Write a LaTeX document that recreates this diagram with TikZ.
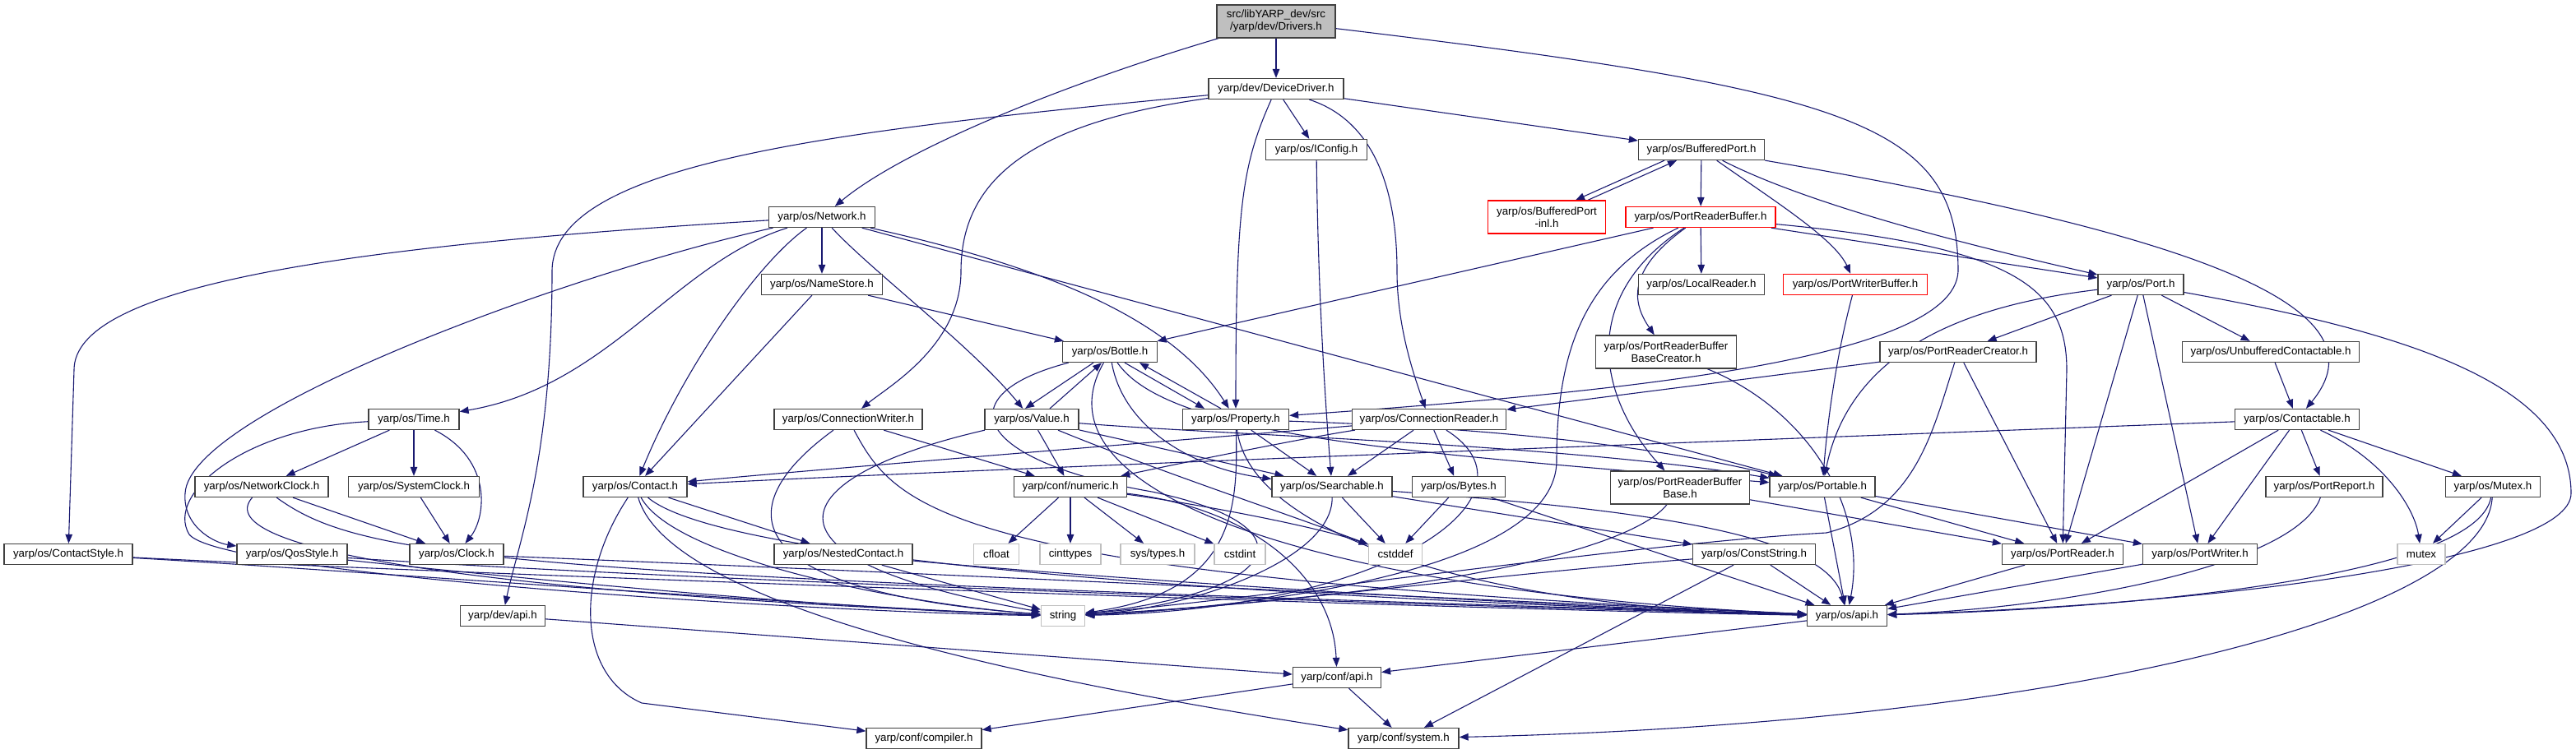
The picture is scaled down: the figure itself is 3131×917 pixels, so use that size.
\documentclass[tikz,border=0pt]{standalone}
\usepackage{fontspec}
\setmainfont{Liberation Sans}
\usetikzlibrary{arrows.meta}
\definecolor{edgec}{HTML}{191970}
\definecolor{boxc}{HTML}{404040}
\definecolor{sysc}{HTML}{BFBFBF}
\definecolor{rootc}{HTML}{BFBFBF}
\pgfdeclarelayer{bg}
\pgfsetlayers{bg,main}
\begin{document}
\begin{tikzpicture}[x=1pt,y=-1pt,
  hdr/.style={draw=boxc, line width=1.3pt, fill=white, inner sep=1pt, minimum height=25pt, align=center, font=\fontsize{13.3pt}{15pt}\selectfont},
  sysh/.style={hdr, draw=sysc},
  redh/.style={hdr, draw=red},
  two/.style={minimum height=40pt},
  edge/.style={draw=edgec, line width=1.1pt, -{Triangle[length=11pt,width=8.5pt]}}]
\useasboundingbox (0,0) rectangle (3131,917);
% ---------- nodes
\node[hdr, two, fill=rootc, minimum width=144pt] (root) at (1551,26) {src/libYARP\_dev/src\\/yarp/dev/Drivers.h};
\node[hdr, minimum width=164pt] (DD) at (1551,108) {yarp/dev/DeviceDriver.h};
\node[hdr, minimum width=123pt] (IConfig) at (1600,182) {yarp/os/IConfig.h};
\node[hdr, minimum width=153pt] (BP) at (2068,182) {yarp/os/BufferedPort.h};
\node[hdr, minimum width=129pt] (Network) at (999,264) {yarp/os/Network.h};
\node[redh, two, minimum width=143pt] (BPinl) at (1880,264) {yarp/os/BufferedPort\\-inl.h};
\node[redh, minimum width=182pt] (PRB) at (2067,264) {yarp/os/PortReaderBuffer.h};
\node[hdr, minimum width=147pt] (NameStore) at (999,346) {yarp/os/NameStore.h};
\node[hdr, minimum width=153pt] (LocalReader) at (2068,346) {yarp/os/LocalReader.h};
\node[redh, minimum width=175pt] (PWB) at (2255,346) {yarp/os/PortWriterBuffer.h};
\node[hdr, minimum width=104pt] (Port) at (2602,346) {yarp/os/Port.h};
\node[hdr, minimum width=115pt] (Bottle) at (1349,428) {yarp/os/Bottle.h};
\node[hdr, two, minimum width=171pt] (PRBBC) at (2025,428) {yarp/os/PortReaderBuffer\\BaseCreator.h};
\node[hdr, minimum width=190pt] (PRC) at (2380,428) {yarp/os/PortReaderCreator.h};
\node[hdr, minimum width=215pt] (UC) at (2760,428) {yarp/os/UnbufferedContactable.h};
\node[hdr, minimum width=110pt] (Time) at (503,510) {yarp/os/Time.h};
\node[hdr, minimum width=180pt] (CW) at (1031,510) {yarp/os/ConnectionWriter.h};
\node[hdr, minimum width=114pt] (Value) at (1254,510) {yarp/os/Value.h};
\node[hdr, minimum width=129pt] (Property) at (1502,510) {yarp/os/Property.h};
\node[hdr, minimum width=187pt] (CR) at (1737,510) {yarp/os/ConnectionReader.h};
\node[hdr, minimum width=151pt] (Contactable) at (2792,510) {yarp/os/Contactable.h};
\node[hdr, minimum width=162pt] (NetClock) at (318,592) {yarp/os/NetworkClock.h};
\node[hdr, minimum width=159pt] (SysClock) at (503,592) {yarp/os/SystemClock.h};
\node[hdr, minimum width=126pt] (Contact) at (772,592) {yarp/os/Contact.h};
\node[hdr, minimum width=137pt] (numeric) at (1301,592) {yarp/conf/numeric.h};
\node[hdr, minimum width=146pt] (Searchable) at (1619,592) {yarp/os/Searchable.h};
\node[hdr, minimum width=113pt] (Bytes) at (1773,592) {yarp/os/Bytes.h};
\node[hdr, two, minimum width=169pt] (PRBB) at (2042,593) {yarp/os/PortReaderBuffer\\Base.h};
\node[hdr, minimum width=128pt] (Portable) at (2215,592) {yarp/os/Portable.h};
\node[hdr, minimum width=142pt] (PortReport) at (2825,592) {yarp/os/PortReport.h};
\node[hdr, minimum width=115pt] (Mutex) at (3030,592) {yarp/os/Mutex.h};
\node[hdr, minimum width=156pt] (ContactStyle) at (83,674) {yarp/os/ContactStyle.h};
\node[hdr, minimum width=134pt] (QosStyle) at (355,674) {yarp/os/QosStyle.h};
\node[hdr, minimum width=114pt] (Clock) at (555,674) {yarp/os/Clock.h};
\node[hdr, minimum width=168pt] (Nested) at (1025,674) {yarp/os/NestedContact.h};
\node[sysh, minimum width=55pt] (cfloat) at (1211,674) {cfloat};
\node[sysh, minimum width=74pt] (cinttypes) at (1301,674) {cinttypes};
\node[sysh, minimum width=90pt] (systypes) at (1407,674) {sys/types.h};
\node[sysh, minimum width=62pt] (cstdint) at (1507,674) {cstdint};
\node[sysh, minimum width=65pt] (cstddef) at (1696,674) {cstddef};
\node[hdr, minimum width=149pt] (ConstString) at (2132,674) {yarp/os/ConstString.h};
\node[hdr, minimum width=147pt] (PortReader) at (2507,674) {yarp/os/PortReader.h};
\node[hdr, minimum width=139pt] (PortWriter) at (2674,674) {yarp/os/PortWriter.h};
\node[sysh, minimum width=58pt] (mutex) at (2943,674) {mutex};
\node[hdr, minimum width=103pt] (devapi) at (611,749) {yarp/dev/api.h};
\node[sysh, minimum width=53pt] (string) at (1292,749) {string};
\node[hdr, minimum width=97pt] (osapi) at (2245,749) {yarp/os/api.h};
\node[hdr, minimum width=107pt] (confapi) at (1625,824) {yarp/conf/api.h};
\node[hdr, minimum width=140pt] (compiler) at (1123,898) {yarp/conf/compiler.h};
\node[hdr, minimum width=134pt] (system) at (1706,898) {yarp/conf/system.h};
% ---------- waypoints
\coordinate (rp1) at (2380,330);
\coordinate (dd1) at (671,330);
\coordinate (dc1) at (1168,330);
\coordinate (dcr) at (1698,330);
\coordinate (prr) at (2512,450);
\coordinate (ps1) at (1892,560);
\coordinate (nc1) at (90,450);
\coordinate (nq1) at (225,600);
\coordinate (ts1) at (230,650);
\coordinate (cc1) at (780,855);
\coordinate (bs1) at (1400,598);
\coordinate (prs) at (2220,648);
\coordinate (pa1) at (3125,600);
% ---------- edges
\begin{pgfonlayer}{bg}
\draw[edge] (root) -- (DD);
\draw[edge] (root) .. controls (1300,100) and (1100,180) .. (Network);
\draw[edge] (root) .. controls (2250,110) and (2380,150) .. (rp1) .. controls (2375,440) and (1950,478) .. (Property);
\draw[edge] (DD) -- (IConfig);
\draw[edge] (DD) -- (BP);
\draw[edge] (DD) .. controls (1000,160) and (671,200) .. (dd1) .. controls (671,560) and (630,660) .. (devapi);
\draw[edge] (DD) .. controls (1250,150) and (1168,220) .. (dc1) .. controls (1168,420) and (1080,470) .. (CW);
\draw[edge] (DD) .. controls (1510,200) and (1502,250) .. (Property);
\draw[edge] (DD) .. controls (1680,150) and (1698,250) .. (dcr) .. controls (1698,400) and (1720,460) .. (CR);
\draw[edge] (IConfig) .. controls (1602,350) and (1610,480) .. (Searchable);
\draw[edge] ([xshift=-45pt]BP.south) -- ([xshift=35pt]BPinl.north);
\draw[edge] ([xshift=50pt]BPinl.north) -- ([xshift=-30pt]BP.south);
\draw[edge] (BP) -- (PRB);
\draw[edge] (BP) .. controls (2150,240) and (2230,290) .. (PWB);
\draw[edge] (BP) .. controls (2200,250) and (2400,300) .. (Port);
\draw[edge] (BP) .. controls (2700,290) and (2900,380) .. (Contactable);
\draw[edge] (PRB) -- (LocalReader);
\draw[edge] (PRB) -- (Port);
\draw[edge] (PRB) .. controls (2450,300) and (2512,350) .. (prr) -- (PortReader);
\draw[edge] (PRB) -- (Bottle);
\draw[edge] (PRB) .. controls (1930,330) and (1892,420) .. (ps1) .. controls (1892,700) and (1500,740) .. (string);
\draw[edge] (PRB) .. controls (1920,360) and (1940,480) .. (PRBB);
\draw[edge] (PRB) .. controls (1975,330) and (1985,370) .. (PRBBC);
\draw[edge] (PWB) .. controls (2235,420) and (2222,500) .. (Portable);
\draw[edge] (Network) .. controls (400,300) and (90,350) .. (nc1) -- (ContactStyle);
\draw[edge] (Network) .. controls (700,330) and (230,500) .. (nq1) .. controls (222,640) and (260,660) .. (QosStyle);
\draw[edge] (Network) .. controls (820,320) and (740,470) .. (Time);
\draw[edge] (Network) .. controls (920,320) and (830,450) .. (Contact);
\draw[edge] (Network) -- (NameStore);
\draw[edge] (Network) .. controls (1060,330) and (1180,420) .. (Value);
\draw[edge] (Network) .. controls (1250,320) and (1420,380) .. (Property);
\draw[edge] (Network) -- (Portable);
\draw[edge] (NameStore) -- (Bottle);
\draw[edge] (NameStore) -- (Contact);
\draw[edge] (Time) -- (NetClock);
\draw[edge] (Time) -- (SysClock);
\draw[edge] (Time) .. controls (600,560) and (590,630) .. (Clock);
\draw[edge] (Time) .. controls (300,520) and (200,600) .. (ts1) .. controls (270,700) and (1000,745) .. (string);
\draw[edge] (NetClock) -- (Clock);
\draw[edge] (NetClock) .. controls (250,670) and (600,722) .. (string);
\draw[edge] (NetClock) .. controls (440,680) and (600,700) .. (osapi);
\draw[edge] (SysClock) -- (Clock);
\draw[edge] (Clock) .. controls (1200,700) and (1800,730) .. (osapi);
\draw[edge] (ContactStyle) .. controls (400,692) and (1000,738) .. (string);
\draw[edge] (ContactStyle) .. controls (600,700) and (1800,742) .. (osapi);
\draw[edge] (QosStyle) .. controls (600,700) and (1000,740) .. (string);
\draw[edge] (QosStyle) .. controls (900,710) and (1800,738) .. (osapi);
\draw[edge] (devapi) -- (confapi);
\draw[edge] (Contact) -- (Nested);
\draw[edge] (Contact) .. controls (820,680) and (1100,735) .. (string);
\draw[edge] (Contact) .. controls (900,700) and (1800,735) .. (osapi);
\draw[edge] (Contact) .. controls (700,700) and (700,820) .. (cc1) -- (compiler);
\draw[edge] (Contact) .. controls (800,690) and (1000,790) .. (system);
\draw[edge] (Nested) -- (string);
\draw[edge] (Nested) .. controls (1300,700) and (1800,735) .. (osapi);
\draw[edge] (CW) -- (numeric);
\draw[edge] (CW) .. controls (880,620) and (900,720) .. (string);
\draw[edge] (CW) .. controls (1090,620) and (1150,700) .. (osapi);
\draw[edge] ([xshift=-20pt]Bottle.south) -- ([xshift=-8pt]Value.north);
\draw[edge] ([xshift=22pt]Value.north) -- ([xshift=-10pt]Bottle.south);
\draw[edge] ([xshift=18pt]Bottle.south) -- ([xshift=-38pt]Property.north);
\draw[edge] ([xshift=-18pt]Property.north) -- ([xshift=36pt]Bottle.south);
\draw[edge] (Value) -- (numeric);
\draw[edge] (Value) -- (Searchable);
\draw[edge] (Value) .. controls (1500,530) and (1900,540) .. (Portable);
\draw[edge] (Value) .. controls (950,580) and (900,680) .. (string);
\draw[edge] (Value) .. controls (1400,570) and (1550,620) .. (cstddef);
\draw[edge] (Bottle) .. controls (1365,520) and (1450,570) .. (Searchable);
\draw[edge] (Bottle) .. controls (1420,530) and (1700,550) .. (Portable);
\draw[edge] (Bottle) .. controls (1150,480) and (1180,560) .. (bs1) .. controls (1600,640) and (1560,720) .. (string);
\draw[edge] (Bottle) .. controls (1250,600) and (1600,720) .. (osapi);
\draw[edge] (Property) -- (Searchable);
\draw[edge] (Property) .. controls (1800,520) and (2000,540) .. (Portable);
\draw[edge] (Property) .. controls (1505,620) and (1500,720) .. (string);
\draw[edge] (Property) .. controls (1520,650) and (1800,740) .. (osapi);
\draw[edge] (CR) -- (Searchable);
\draw[edge] (CR) -- (Bytes);
\draw[edge] (CR) .. controls (1500,530) and (1000,570) .. (Contact);
\draw[edge] (CR) .. controls (1600,530) and (1450,560) .. (numeric);
\draw[edge] (CR) .. controls (1880,600) and (1700,740) .. (string);
\draw[edge] (Contactable) .. controls (2000,540) and (1200,570) .. (Contact);
\draw[edge] (Contactable) -- (PortReader);
\draw[edge] (Contactable) -- (PortWriter);
\draw[edge] (Contactable) -- (PortReport);
\draw[edge] (Contactable) -- (Mutex);
\draw[edge] (Contactable) .. controls (2900,560) and (2935,620) .. (mutex);
\draw[edge] (UC) -- (Contactable);
\draw[edge] (Port) -- (PRC);
\draw[edge] (Port) -- (UC);
\draw[edge] (Port) -- (PortReader);
\draw[edge] (Port) -- (PortWriter);
\draw[edge] (Port) .. controls (2400,370) and (2250,420) .. (Portable);
\draw[edge] (Port) .. controls (2900,400) and (3125,460) .. (pa1) .. controls (3125,680) and (2700,735) .. (osapi);
\draw[edge] (PRC) -- (CR);
\draw[edge] (PRC) -- (PortReader);
\draw[edge] (PRC) .. controls (2350,520) and (2330,620) .. (prs) .. controls (2000,660) and (1600,720) .. (string);
\draw[edge] (PRBBC) .. controls (2200,500) and (2270,620) .. (osapi);
\draw[edge] (PRBB) -- (PortReader);
\draw[edge] (PRBB) .. controls (1990,660) and (1800,720) .. (string);
\draw[edge] (Portable) -- (PortReader);
\draw[edge] (Portable) -- (PortWriter);
\draw[edge] (Portable) -- (osapi);
\draw[edge] (Searchable) -- (cstddef);
\draw[edge] (Searchable) .. controls (1620,680) and (1450,740) .. (string);
\draw[edge] (Searchable) -- (ConstString);
\draw[edge] (Searchable) .. controls (2000,620) and (2220,650) .. (osapi);
\draw[edge] (Bytes) -- (cstddef);
\draw[edge] (Bytes) -- (osapi);
\draw[edge] (ConstString) .. controls (1800,700) and (1500,740) .. (string);
\draw[edge] (ConstString) -- (osapi);
\draw[edge] (ConstString) -- (system);
\draw[edge] (numeric) -- (cfloat);
\draw[edge] (numeric) -- (cinttypes);
\draw[edge] (numeric) -- (systypes);
\draw[edge] (numeric) -- (cstdint);
\draw[edge] (numeric) .. controls (1450,612) and (1600,640) .. (cstddef);
\draw[edge] (numeric) .. controls (1520,618) and (1620,700) .. (confapi);
\draw[edge] (PortReader) -- (osapi);
\draw[edge] (PortWriter) -- (osapi);
\draw[edge] (PortReport) .. controls (2790,690) and (2500,740) .. (osapi);
\draw[edge] (Mutex) -- (mutex);
\draw[edge] (Mutex) .. controls (3010,700) and (2600,740) .. (osapi);
\draw[edge] (Mutex) .. controls (3020,750) and (2500,880) .. (system);
\draw[edge] (osapi) -- (confapi);
\draw[edge] (confapi) -- (compiler);
\draw[edge] (confapi) -- (system);
\end{pgfonlayer}
\end{tikzpicture}
\end{document}
